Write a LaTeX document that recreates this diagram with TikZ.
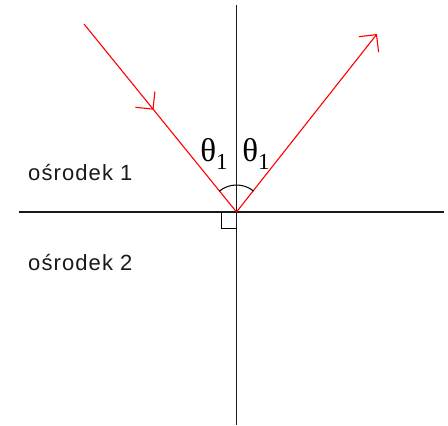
\documentclass[tikz,border=0pt]{standalone}
\usepackage{fontspec}
\setmainfont{Liberation Sans}
\newfontfamily\mediumfont{Liberation Sans}[LetterSpace=5]
\newfontfamily\anglefont{Liberation Serif}
\usetikzlibrary{arrows.meta,decorations.markings}

\begin{document}
\begin{tikzpicture}[x=1pt, y=1pt,
    axis/.style={draw=black!90, line width=1.5pt},
    ray/.style={draw=red, line width=1.1pt},
    barb/.style={-{Straight Barb[length=12.5pt, width=25pt, line width=1.1pt]}},
    midbarb/.style={postaction={decorate, decoration={markings,
        mark=at position 0.456 with {\arrow{Straight Barb[length=12.5pt, width=25pt, line width=1.1pt]}}}}},
    medium/.style={font=\mediumfont\fontsize{22}{24}\selectfont, text=black!90, inner sep=0pt, anchor=base west},
    angle/.style={font=\anglefont\fontsize{33}{33}\selectfont, inner sep=0pt}]
  \useasboundingbox (0,0) rectangle (448,426);
  % boundary and normal
  \coordinate (O) at (236.5,214);
  \coordinate (nTop) at (236.5,421);
  \coordinate (nBot) at (236.5,1);
  \coordinate (bLeft) at (19,214);
  \coordinate (bRight) at (444,214);
  \draw[axis] (nTop) -- (nBot);
  \draw[axis] (bLeft) -- (bRight);
  % incident and reflected rays
  \coordinate (src) at (84,402);
  \coordinate (dst) at (377,392);
  \draw[ray, midbarb] (src) -- (O);
  \draw[ray, barb] (O) -- (dst);
  % angles
  \draw[black, line width=1pt] (O) ++(51:27) arc[start angle=51, end angle=129, radius=27];
  \draw[black, line width=1pt] (O) ++(-15.5,0) |- ++(15.5,-17);
  \node[angle] (th1) at (214,272) {θ\raisebox{-8pt}{\fontsize{23}{23}\selectfont 1}};
  \node[angle] (th2) at (256,272) {θ\raisebox{-8pt}{\fontsize{23}{23}\selectfont 1}};
  % media
  \node[medium] (m1) at (28,245) {ośrodek 1};
  \node[medium] (m2) at (28,155) {ośrodek 2};
\end{tikzpicture}
\end{document}
